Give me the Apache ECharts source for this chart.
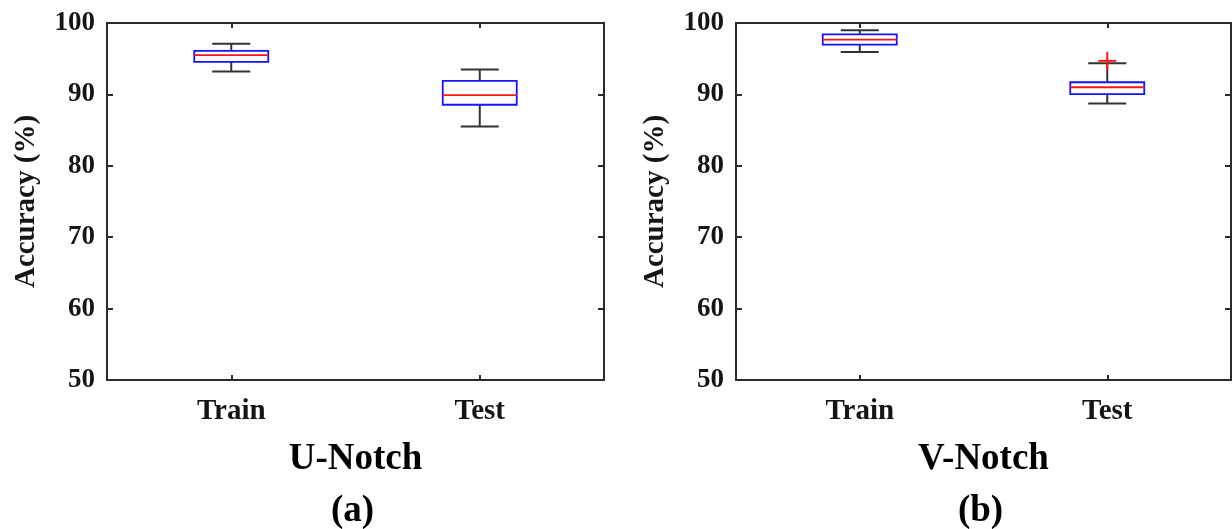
<!DOCTYPE html>
<html>
<head>
<meta charset="utf-8">
<script src="https://cdn.jsdelivr.net/npm/echarts@6/dist/echarts.min.js"></script>
<style>
  html, body { margin: 0; padding: 0; background: #fff; }
  #chart { width: 1232px; height: 529px; }
</style>
</head>
<body>
<div id="chart"></div>
<script>
// Box statistics per category: [lower whisker, Q1, median, Q3, upper whisker]
const categories = ['Train', 'Test'];
const uNotchStats = [
  [93.2, 94.55, 95.5, 96.1, 97.1],
  [85.5, 88.55, 89.9, 91.9, 93.5]
];
const vNotchStats = [
  [95.95, 96.97, 97.67, 98.4, 98.98],
  [88.73, 90.04, 91.0, 91.7, 94.37]
];
// Outliers: [category index, value]
const uNotchOutliers = [];
const vNotchOutliers = [[1, 94.7]];
const yMin = 50, yMax = 100, yStep = 10;
const yAxisName = 'Accuracy (%)';
const panelTitles = ['U-Notch', 'V-Notch'];
const panelTags = ['(a)', '(b)'];

const FONT = '"Liberation Serif", "Times New Roman", serif';
const TEXT_COLOR = '#151515';
const FRAME_COLOR = '#2b2b2b';
const BOX_W = 74, CAP_W = 38;

function boxRender(params, api) {
  const x = api.value(0);
  const lo = api.coord([x, api.value(1)]);
  const q1 = api.coord([x, api.value(2)]);
  const md = api.coord([x, api.value(3)]);
  const q3 = api.coord([x, api.value(4)]);
  const hi = api.coord([x, api.value(5)]);
  const cx = lo[0];
  const whisker = { stroke: '#333', lineWidth: 2 };
  return {
    type: 'group',
    children: [
      { type: 'line', shape: { x1: cx, y1: hi[1], x2: cx, y2: q3[1] }, style: whisker },
      { type: 'line', shape: { x1: cx, y1: q1[1], x2: cx, y2: lo[1] }, style: whisker },
      { type: 'line', shape: { x1: cx - CAP_W / 2, y1: hi[1], x2: cx + CAP_W / 2, y2: hi[1] }, style: whisker },
      { type: 'line', shape: { x1: cx - CAP_W / 2, y1: lo[1], x2: cx + CAP_W / 2, y2: lo[1] }, style: whisker },
      { type: 'rect', shape: { x: cx - BOX_W / 2, y: q3[1], width: BOX_W, height: q1[1] - q3[1] },
        style: { fill: '#fff', stroke: '#1414ff', lineWidth: 1.8 } },
      { type: 'line', shape: { x1: cx - BOX_W / 2, y1: md[1], x2: cx + BOX_W / 2, y2: md[1] },
        style: { stroke: '#ff1414', lineWidth: 1.8 } }
    ]
  };
}

function outlierRender(params, api) {
  const p = api.coord([api.value(0), api.value(1)]);
  const h = 9;
  const st = { stroke: '#ff1414', lineWidth: 2 };
  return {
    type: 'group',
    children: [
      { type: 'line', shape: { x1: p[0] - h, y1: p[1], x2: p[0] + h, y2: p[1] }, style: st },
      { type: 'line', shape: { x1: p[0], y1: p[1] - h, x2: p[0], y2: p[1] + h }, style: st }
    ]
  };
}

const grids = [
  { left: 107, right: 628, top: 23, bottom: 149 },
  { left: 736, right: 1, top: 23, bottom: 149 }
];

const xAxes = [], yAxes = [], series = [], graphics = [];
const allStats = [uNotchStats, vNotchStats];
const allOutliers = [uNotchOutliers, vNotchOutliers];

grids.forEach((g, i) => {
  g.show = true;
  g.borderColor = FRAME_COLOR;
  g.borderWidth = 2;
  g.backgroundColor = '#fff';
  // bottom category axis with labels
  xAxes.push({
    type: 'category', gridIndex: i, data: categories, position: 'bottom',
    axisLine: { show: true, lineStyle: { color: FRAME_COLOR, width: 2 } },
    axisTick: { show: true, inside: true, alignWithLabel: true, length: 5, lineStyle: { color: FRAME_COLOR, width: 2 } },
    axisLabel: { fontFamily: FONT, fontWeight: 'bold', fontSize: 29, color: TEXT_COLOR, margin: 17 },
    splitLine: { show: false }
  });
  // mirrored top ticks
  xAxes.push({
    type: 'category', gridIndex: i, data: categories, position: 'top',
    axisLine: { show: false },
    axisTick: { show: true, inside: true, alignWithLabel: true, length: 5, lineStyle: { color: FRAME_COLOR, width: 2 } },
    axisLabel: { show: false }, splitLine: { show: false }
  });
  yAxes.push({
    type: 'value', gridIndex: i, min: yMin, max: yMax, interval: yStep, position: 'left',
    name: yAxisName, nameLocation: 'middle', nameGap: 66,
    nameTextStyle: { fontFamily: FONT, fontWeight: 'bold', fontSize: 29, color: TEXT_COLOR },
    axisLine: { show: true, lineStyle: { color: FRAME_COLOR, width: 2 } },
    axisTick: { show: true, inside: true, length: 6, lineStyle: { color: FRAME_COLOR, width: 2 } },
    axisLabel: { fontFamily: FONT, fontWeight: 'bold', fontSize: 27, color: TEXT_COLOR, margin: 12 },
    splitLine: { show: false }
  });
  yAxes.push({
    type: 'value', gridIndex: i, min: yMin, max: yMax, interval: yStep, position: 'right',
    axisLine: { show: false },
    axisTick: { show: true, inside: true, length: 6, lineStyle: { color: FRAME_COLOR, width: 2 } },
    axisLabel: { show: false }, splitLine: { show: false }
  });
  series.push({
    type: 'custom', xAxisIndex: i * 2, yAxisIndex: i * 2,
    renderItem: boxRender,
    encode: { x: 0, y: [1, 2, 3, 4, 5] },
    data: allStats[i].map((s, k) => [k].concat(s)),
    z: 5
  });
  if (allOutliers[i].length) {
    series.push({
      type: 'custom', xAxisIndex: i * 2, yAxisIndex: i * 2,
      renderItem: outlierRender,
      encode: { x: 0, y: 1 },
      data: allOutliers[i],
      z: 6
    });
  }
  const cx = g.left + (1232 - g.left - g.right) / 2;
  graphics.push({
    type: 'text', x: cx, y: 459,
    style: { text: panelTitles[i], fill: '#000', font: 'bold 37px ' + FONT, align: 'center', verticalAlign: 'middle' }
  });
  graphics.push({
    type: 'text', x: cx - 3, y: 511,
    style: { text: panelTags[i], fill: '#000', font: 'bold 37px ' + FONT, align: 'center', verticalAlign: 'middle' }
  });
});

const chart = echarts.init(document.getElementById('chart'), null, { renderer: 'canvas' });
chart.setOption({
  animation: false,
  backgroundColor: '#fff',
  grid: grids,
  xAxis: xAxes,
  yAxis: yAxes,
  series: series,
  graphic: graphics
});
</script>
</body>
</html>
